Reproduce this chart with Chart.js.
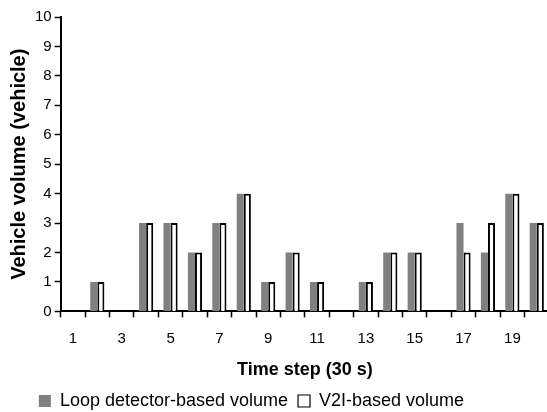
<!DOCTYPE html>
<html>
<head>
<meta charset="utf-8">
<script src="https://cdn.jsdelivr.net/npm/chart.js@4"></script>
<style>
  html, body { margin: 0; padding: 0; background: #fff; overflow: hidden; }
  #wrap { width: 549px; height: 420px; }
</style>
</head>
<body>
<div id="wrap"><canvas id="myChart"></canvas></div>
<script>
// data
const timeSteps = ['1','2','3','4','5','6','7','8','9','10','11','12','13','14','15','16','17','18','19','20'];
const loopVolume = [0, 1, 0, 3, 3, 2, 3, 4, 1, 2, 1, 0, 1, 2, 2, 0, 3, 2, 4, 3];
const v2iVolume  = [0, 1, 0, 3, 3, 2, 3, 4, 1, 2, 1, 0, 1, 2, 2, 0, 2, 3, 4, 3];
const seriesNames = ['Loop detector-based volume', 'V2I-based volume'];

const fontFamily = '"Liberation Sans", Arial, sans-serif';

// move the legend a bit to the left, like the original
const shiftLegend = {
    id: 'shiftLegend',
    afterLayout(chart) {
        chart.legend.left -= 25;
        chart.legend.right -= 25;
    }
};

const ctx = document.querySelector('#myChart');
const chart = new Chart(ctx, {
    type: 'bar',
    data: {
        labels: timeSteps,
        datasets: [
            {
                label: seriesNames[0],
                data: loopVolume,
                backgroundColor: '#808080',
                borderWidth: 0,
            },
            {
                label: seriesNames[1],
                data: v2iVolume,
                backgroundColor: '#ffffff',
                borderColor: '#000000',
                borderWidth: 2,
            },
        ],
    },
    options: {
        responsive: true,
        maintainAspectRatio: false,
        animation: false,
        datasets: {
            bar: {
                categoryPercentage: 0.58,
                barPercentage: 1.0,
            }
        },
        layout: {
            padding: { top: 17, left: 4, right: 0, bottom: 0 }
        },
        scales: {
            x: {
                grid: {
                    display: true,
                    drawOnChartArea: false,
                    drawTicks: true,
                    tickLength: 6,
                    tickWidth: 1.5,
                    tickColor: '#000',
                },
                border: { display: true, color: '#000', width: 2 },
                ticks: {
                    color: '#000',
                    autoSkip: false,
                    maxRotation: 0,
                    padding: 12,
                    font: { family: fontFamily, size: 15 },
                    callback: (value, index) => (index % 2 === 0 ? timeSteps[index] : ''),
                },
                title: {
                    display: true,
                    text: 'Time step (30 s)',
                    color: '#000',
                    font: { family: fontFamily, size: 18, weight: 'bold' },
                    padding: { top: 0, bottom: 1 },
                },
            },
            y: {
                min: 0,
                max: 10,
                grid: {
                    display: true,
                    drawOnChartArea: false,
                    drawTicks: true,
                    tickLength: 6,
                    tickWidth: 1.5,
                    tickColor: '#000',
                },
                border: { display: true, color: '#000', width: 2 },
                ticks: {
                    stepSize: 1,
                    color: '#000',
                    padding: 3,
                    font: { family: fontFamily, size: 15 },
                },
                title: {
                    display: true,
                    text: 'Vehicle volume (vehicle)',
                    color: '#000',
                    font: { family: fontFamily, size: 20, weight: 'bold' },
                    padding: { top: 3, bottom: 1 },
                },
            },
        },
        plugins: {
            tooltip: { enabled: false },
            legend: {
                position: 'bottom',
                labels: {
                    color: '#000',
                    boxWidth: 12,
                    boxHeight: 12,
                    padding: 10,
                    font: { family: fontFamily, size: 18 },
                    generateLabels: (c) =>
                        Chart.defaults.plugins.legend.labels.generateLabels(c).map(l => ({
                            ...l,
                            lineWidth: l.lineWidth ? 1.2 : 0,
                        })),
                },
            },
        },
    },
    plugins: [shiftLegend],
});
</script>
</body>
</html>
